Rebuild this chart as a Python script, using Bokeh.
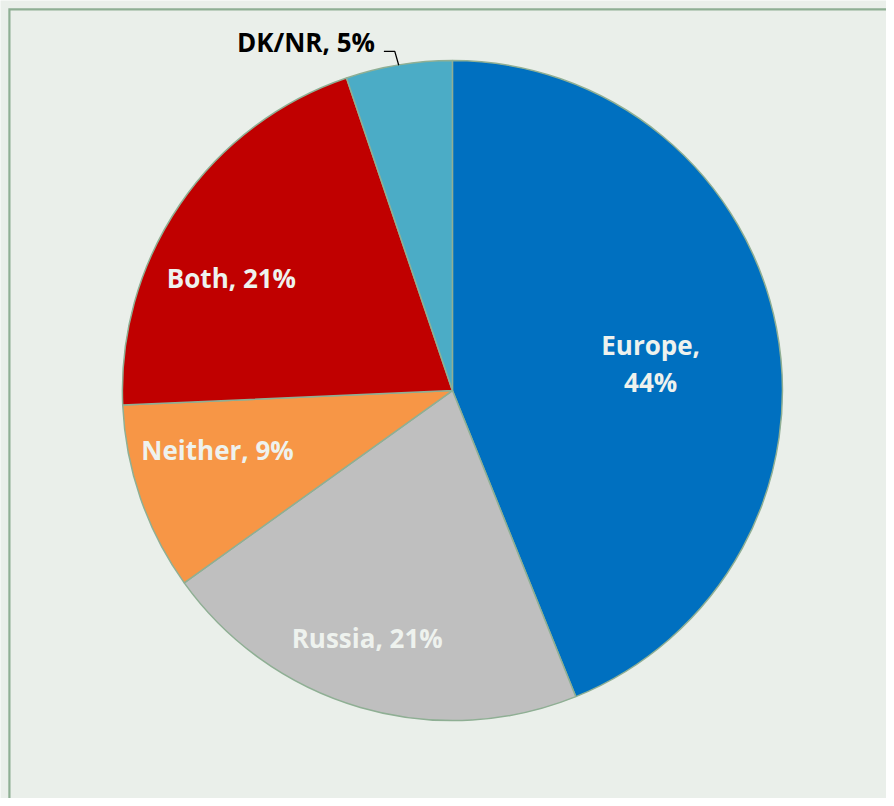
import math
from bokeh.plotting import figure
from bokeh.models import Range1d, ColumnDataSource
from bokeh.core.properties import value
from bokeh.embed import file_html
from bokeh.resources import INLINE

# ---- data ----
categories = ["Europe", "Russia", "Neither", "Both", "DK/NR"]
shares = [43.9, 21.2, 9.2, 20.5, 5.2]
pct_labels = ["44%", "21%", "9%", "21%", "5%"]
colors = ["#0070C0", "#BFBFBF", "#F79646", "#C00000", "#4BACC6"]

# ---- layout (designed on an 894x806 canvas, scaled to the figure) ----
W, H = 886, 798
SX, SY = W / 894, H / 806
BG = "#EAEFEA"
EDGE = "#8FAF94"


def X(px):
    return px * SX


def Y(py):
    return H - py * SY


CX, CY, R = 456, 394, 333          # pie centre / radius on the design canvas
# label offsets from the pie centre (design px, y down)
label_off = {"Europe": (200, -28), "Russia": (-86, 250), "Neither": (-237, 60), "Both": (-223, -114)}

p = figure(width=W, height=H, output_backend="svg", toolbar_location=None,
           x_range=Range1d(0, W), y_range=Range1d(0, H), min_border=0,
           background_fill_color=BG, border_fill_color=BG, outline_line_color=None)
p.axis.visible = False
p.grid.visible = False

total = sum(shares)
starts, ends, mids = [], [], []
acc = 0.0
for s in shares:
    a0 = math.pi / 2 - 2 * math.pi * acc / total
    acc += s
    a1 = math.pi / 2 - 2 * math.pi * acc / total
    starts.append(a1)
    ends.append(a0)
    mids.append((a0 + a1) / 2)

src = ColumnDataSource(dict(cat=categories, start=starts, end=ends, color=colors))
p.wedge(x=X(CX), y=Y(CY), radius=R * SX, start_angle="start", end_angle="end", source=src,
        fill_color="color", line_color=EDGE, line_width=1.5)

font = value("Open Sans")
LIGHT = "#EEF2EE"
FS = "26px"

# Europe (two lines)
dx, dy = label_off[categories[0]]
p.text(x=[X(CX + dx)], y=[Y(CY + dy - 18)], text=[categories[0] + ","], text_align="center",
       text_baseline="middle", text_font=font, text_font_style="bold", text_font_size=FS, text_color=LIGHT)
p.text(x=[X(CX + dx)], y=[Y(CY + dy + 19)], text=[pct_labels[0]], text_align="center",
       text_baseline="middle", text_font=font, text_font_style="bold", text_font_size=FS, text_color=LIGHT)

xs, ys, ts = [], [], []
for i in (1, 2, 3):
    dx, dy = label_off[categories[i]]
    xs.append(X(CX + dx))
    ys.append(Y(CY + dy))
    ts.append(f"{categories[i]}, {pct_labels[i]}")
p.text(x=xs, y=ys, text=ts, text_align="center", text_baseline="middle",
       text_font=font, text_font_style="bold", text_font_size=FS, text_color=LIGHT)

# DK/NR outside label with leader line
rim_x = CX + R * math.cos(mids[4])
rim_y = CY - R * math.sin(mids[4])
p.line(x=[X(rim_x), X(rim_x - 4), X(rim_x - 15)], y=[Y(rim_y), Y(rim_y - 14), Y(rim_y - 14)],
       line_color="black", line_width=1.3)
p.text(x=[X(rim_x - 24)], y=[Y(rim_y - 24)], text=[f"{categories[4]}, {pct_labels[4]}"],
       text_align="right", text_baseline="middle",
       text_font=font, text_font_style="bold", text_font_size=FS, text_color="black")

# plot-area frame edges (top & left visible), clean corner
p.line(x=[X(9), X(9), W + 5], y=[-5, Y(9), Y(9)], line_color=EDGE, line_width=2.2,
       line_join="miter")

open("out.html", "w").write(file_html(p, INLINE))
